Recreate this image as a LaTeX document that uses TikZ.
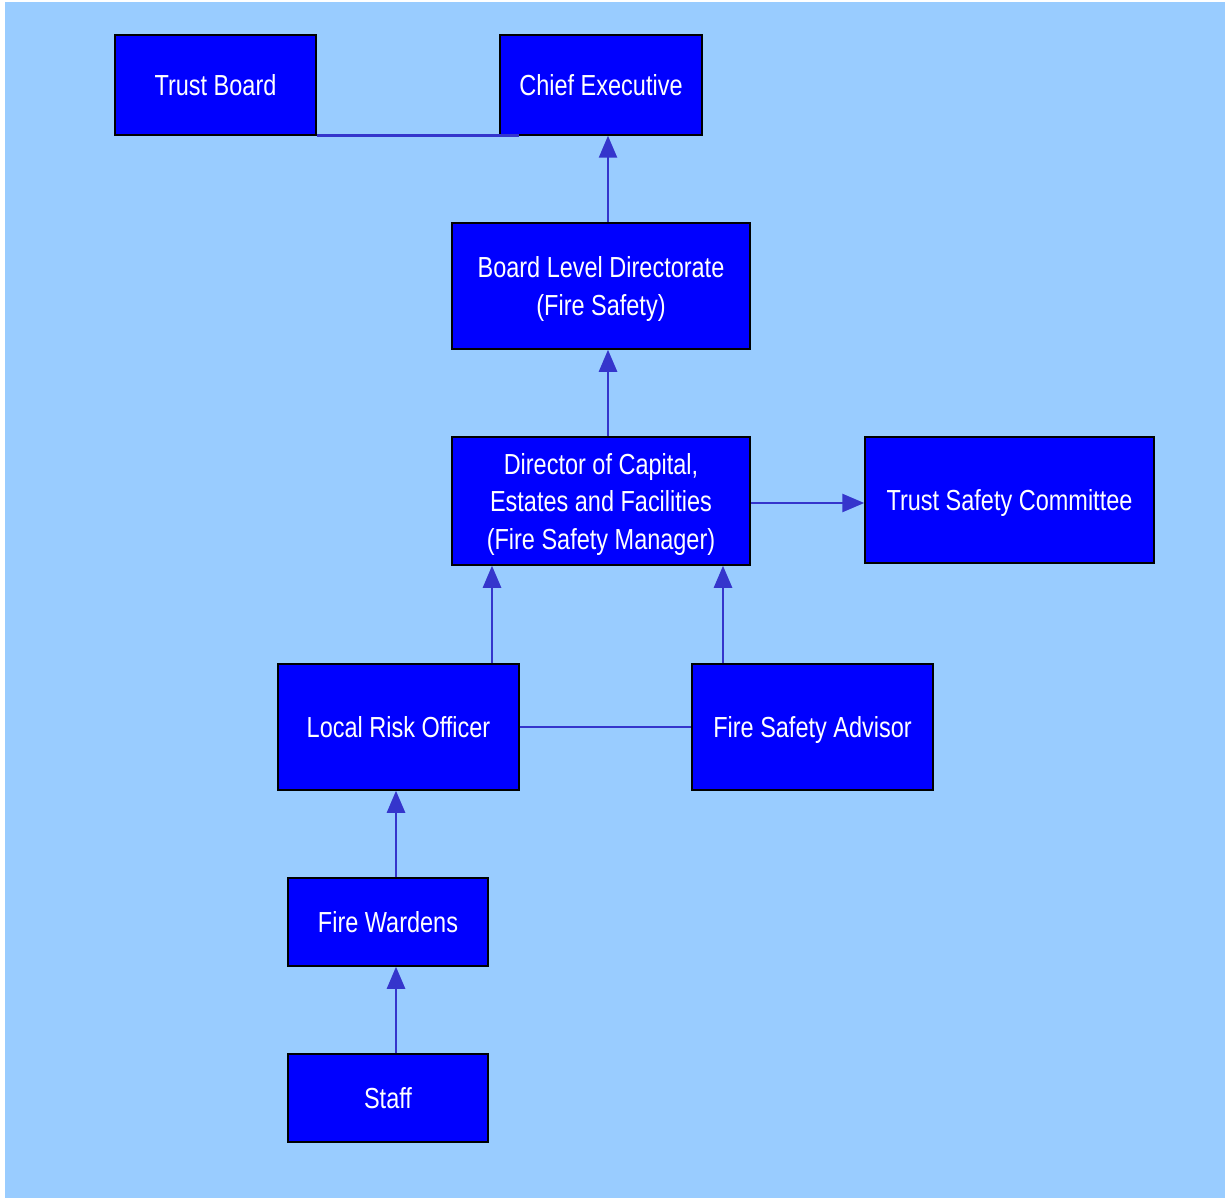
\documentclass[tikz,border=0pt]{standalone}
\usepackage{fontspec}
\setmainfont{Liberation Sans}[FakeStretch=0.81]
\usetikzlibrary{arrows.meta,calc}
\definecolor{bg}{HTML}{99CCFF}
\definecolor{boxblue}{HTML}{0000FF}
\definecolor{conn}{HTML}{3535CC}
\begin{document}
\begin{tikzpicture}[x=1pt,y=-1pt,
  orgbox/.style={draw=black,line width=1.5pt,fill=boxblue,text=white,align=center,
    font=\fontsize{29}{37.5}\selectfont,inner sep=0pt,text depth=0pt},
  link/.style={draw=conn,line width=2.6pt},
  arr/.style={link,-{Triangle[length=22pt,width=18pt]}}]
\useasboundingbox (0,0) rectangle (1225,1198);
\fill[bg] (5,2) rectangle (1225,1198);
\node[orgbox,minimum width=201pt,minimum height=100pt] (tb) at (215.5,85) {Trust Board};
\node[orgbox,minimum width=202pt,minimum height=100pt] (ce) at (601,85) {Chief Executive};
\node[orgbox,minimum width=298pt,minimum height=126pt] (bld) at (601,286) {Board Level Directorate\\(Fire Safety)};
\node[orgbox,minimum width=298pt,minimum height=128pt] (doc) at (601,501) {Director of Capital,\\Estates and Facilities\\(Fire Safety Manager)};
\node[orgbox,minimum width=289pt,minimum height=126pt] (tsc) at (1009.5,500) {Trust Safety Committee};
\node[orgbox,minimum width=241pt,minimum height=126pt] (lro) at (398.5,727) {Local Risk Officer};
\node[orgbox,minimum width=241pt,minimum height=126pt] (fsa) at (812.5,727) {Fire Safety Advisor};
\node[orgbox,minimum width=200pt,minimum height=88pt] (fw) at (388,922) {Fire Wardens};
\node[orgbox,minimum width=200pt,minimum height=88pt] (st) at (388,1098) {Staff};
% connectors
\draw[link] (tb.south east) -- ($(ce.south west)+(20,0)$);
\draw[arr] ([xshift=7pt]bld.north) -- ([xshift=7pt]bld.north |- ce.south);
\draw[arr] ([xshift=7pt]doc.north) -- ([xshift=7pt]doc.north |- bld.south);
\draw[arr] ([yshift=-2pt]doc.east) -- ([yshift=-2pt]doc.east -| tsc.west);
\draw[arr] ([xshift=-109pt]doc.south |- lro.north) -- ([xshift=-109pt]doc.south);
\draw[arr] ([xshift=122pt]doc.south |- fsa.north) -- ([xshift=122pt]doc.south);
\draw[link] (lro.east) -- (fsa.west);
\draw[arr] ([xshift=8pt]fw.north) -- ([xshift=8pt]fw.north |- lro.south);
\draw[arr] ([xshift=8pt]st.north) -- ([xshift=8pt]fw.south);
\end{tikzpicture}
\end{document}
